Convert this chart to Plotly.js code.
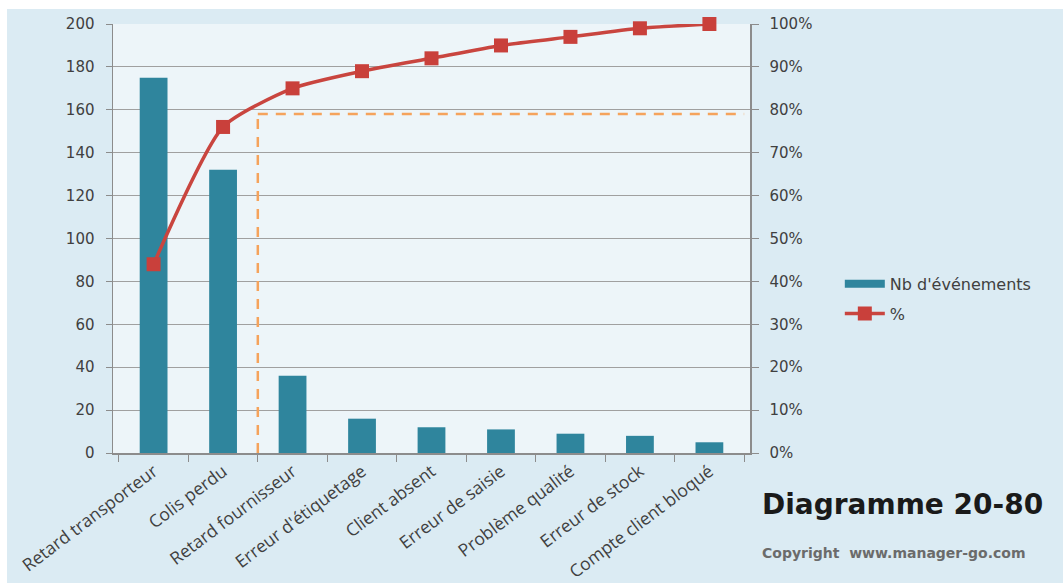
<!DOCTYPE html>
<html>
<head>
<meta charset="utf-8">
<script src="https://cdn.plot.ly/plotly-3.0.1.min.js"></script>
<style>
  html, body { margin: 0; padding: 0; background: #ffffff; }
  #chart { position: absolute; left: 7px; top: 9px; width: 1056px; height: 574px; }
</style>
</head>
<body>
<div id="chart"></div>
<script>
const categories = ["Retard transporteur", "Colis perdu", "Retard fournisseur", "Erreur d'étiquetage",
  "Client absent", "Erreur de saisie", "Problème qualité", "Erreur de stock", "Compte client bloqué"];
const events = [175, 132, 36, 16, 12, 11, 9, 8, 5];
const cumulativePct = [0.44, 0.76, 0.85, 0.89, 0.92, 0.95, 0.97, 0.99, 1.00];
const thresholdPct = 0.79;
const cutCategoryPos = 1.5;

const barColor = '#2f859d';
const lineColor = '#c9453f';

const barTrace = {
  type: 'bar', x: categories, y: events, name: "Nb d'événements",
  marker: { color: barColor }, yaxis: 'y', showlegend: false
};
// legend-only entry so the bar key is drawn as a wide band like the original
const barLegendKey = {
  type: 'scatter', mode: 'lines', x: [null], y: [null], name: "Nb d'événements",
  line: { color: barColor, width: 8 }, legendgroup: 'a', yaxis: 'y'
};
const lineTrace = {
  type: 'scatter', mode: 'lines+markers', x: categories, y: cumulativePct, name: '%',
  yaxis: 'y2', cliponaxis: false, legendgroup: 'b',
  line: { color: lineColor, width: 3.5, shape: 'spline', smoothing: 0.6 },
  marker: { symbol: 'square', size: 14, color: '#c9403b' }
};

const tickFont = { family: 'DejaVu Sans', size: 15, color: '#404040' };

const layout = {
  width: 1056, height: 574,
  margin: { l: 106, r: 313, t: 15, b: 130 },
  paper_bgcolor: '#dbebf3',
  plot_bgcolor: '#edf5f9',
  showlegend: true,
  bargap: 0.6,
  xaxis: {
    type: 'category',
    tickangle: -37,
    tickfont: { family: 'Open Sans', size: 17.5, color: '#404040' },
    ticks: 'outside', tickson: 'boundaries', ticklen: 7, tickcolor: '#8c8c8c',
    showline: true, linecolor: '#8c8c8c', linewidth: 1.5,
    showgrid: false, zeroline: false
  },
  yaxis: {
    range: [0, 200], dtick: 20, tickfont: tickFont,
    showgrid: true, gridcolor: '#a0a0a0', gridwidth: 1,
    showline: true, linecolor: '#8c8c8c', linewidth: 1.5,
    ticks: 'outside', ticklen: 6, tickcolor: '#8c8c8c', ticklabelstandoff: 8,
    zeroline: false
  },
  yaxis2: {
    range: [0, 1], dtick: 0.1, tickformat: '.0%', overlaying: 'y', side: 'right',
    tickfont: tickFont, showgrid: false,
    showline: true, linecolor: '#8c8c8c', linewidth: 1.5,
    ticks: 'outside', ticklen: 7, tickcolor: '#8c8c8c', ticklabelstandoff: 8,
    zeroline: false
  },
  legend: {
    x: 1.141, y: 0.434, xanchor: 'left', yanchor: 'top',
    bgcolor: 'rgba(0,0,0,0)',
    font: { family: 'DejaVu Sans', size: 16, color: '#404040' },
    itemwidth: 40,
    tracegroupgap: 6
  },
  shapes: [
    { type: 'line', xref: 'x', yref: 'y2', x0: cutCategoryPos, x1: cutCategoryPos, y0: 0, y1: thresholdPct,
      line: { color: '#f5a35c', width: 2.5, dash: '10px,8px' } },
    { type: 'line', xref: 'x', yref: 'y2', x0: cutCategoryPos, x1: categories.length - 0.5, y0: thresholdPct, y1: thresholdPct,
      line: { color: '#f5a35c', width: 2.5, dash: '10px,8px' } }
  ],
  annotations: [
    { text: '<b>Diagramme 20-80</b>', xref: 'paper', yref: 'paper', x: 1.24, y: -0.121,
      xanchor: 'center', yanchor: 'middle', showarrow: false,
      font: { family: 'DejaVu Sans', size: 28, color: '#1a1a1a' } },
    { text: '<b>Copyright  www.manager-go.com</b>', xref: 'paper', yref: 'paper', x: 1.226, y: -0.233,
      xanchor: 'center', yanchor: 'middle', showarrow: false,
      font: { family: 'DejaVu Sans', size: 14, color: '#6b6b6b' } }
  ]
};

Plotly.newPlot('chart', [barTrace, barLegendKey, lineTrace], layout, { displayModeBar: false, staticPlot: true });
</script>
</body>
</html>
